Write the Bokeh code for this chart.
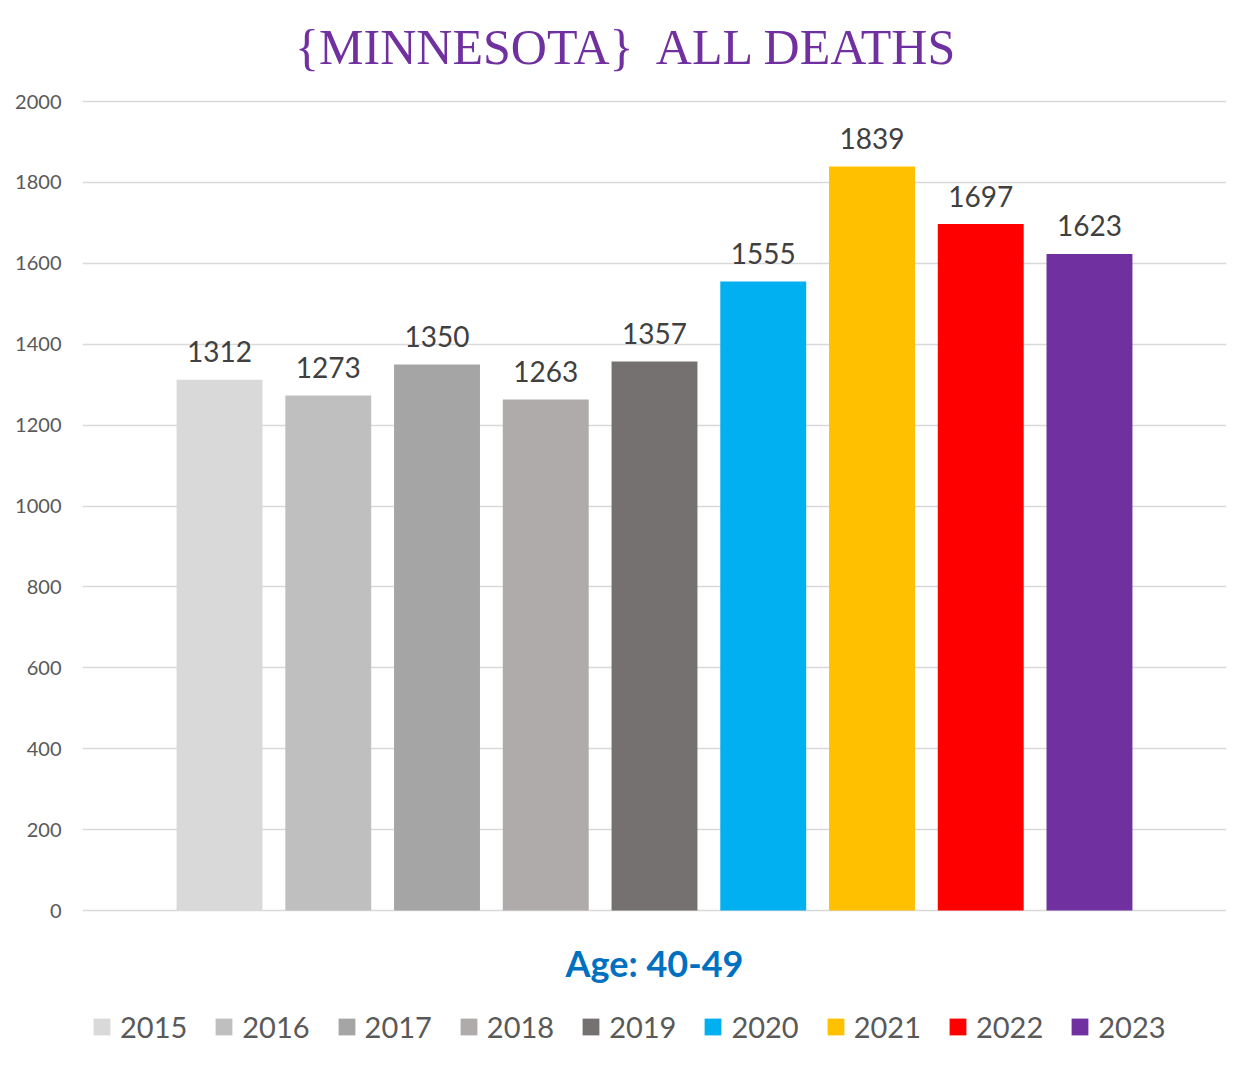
from bokeh.plotting import figure
from bokeh.models import (ColumnDataSource, Range1d, FixedTicker, Label, Legend,
                          LegendItem)
from bokeh.core.properties import value
from bokeh.embed import file_html
from bokeh.resources import INLINE

years = ["2015", "2016", "2017", "2018", "2019", "2020", "2021", "2022", "2023"]
deaths = [1312, 1273, 1350, 1263, 1357, 1555, 1839, 1697, 1623]
colors = ["#D9D9D9", "#BFBFBF", "#A5A5A5", "#AFABAB", "#767171",
          "#00B0F0", "#FFC000", "#FF0000", "#7030A0"]
y_ticks = list(range(0, 2001, 200))
title_text = "{MINNESOTA}\u00a0 ALL DEATHS"
axis_title = "Age: 40-49"

src = ColumnDataSource(dict(x=list(range(len(years))), y=deaths, year=years,
                            color=colors, label=[str(v) for v in deaths]))

W, H = 1234, 1052
LEFT, RIGHT = 82, 8
top_px, zero_px = 101, 910         # pixel rows of 2000 and 0
upp = 2000 / (zero_px - top_px)    # data units per pixel
y_lo = -(H - zero_px) * upp
y_hi = 2000 + top_px * upp

p = figure(width=W, height=H, output_backend="svg", toolbar_location=None,
           x_range=Range1d(-1.26, len(years) - 1 + 1.26), y_range=Range1d(y_lo, y_hi),
           min_border_left=LEFT, min_border_right=RIGHT, min_border_top=0,
           min_border_bottom=0)
p.outline_line_color = None
p.xaxis.visible = False
p.xgrid.visible = False
p.ygrid.grid_line_color = "#D9D9D9"
p.ygrid.grid_line_width = 1.5

p.yaxis.ticker = FixedTicker(ticks=y_ticks)
p.yaxis.axis_line_color = None
p.yaxis.major_tick_line_color = None
p.yaxis.minor_tick_line_color = None
p.yaxis.major_label_standoff = 15
p.yaxis.major_label_text_font = "Lato"
p.yaxis.major_label_text_font_size = "20px"
p.yaxis.major_label_text_color = "#595959"

bars = p.vbar(x="x", top="y", bottom=0, width=0.79, color="color", line_color=None,
              source=src)

p.text(x="x", y="y", text="label", source=src, text_align="center",
       text_baseline="alphabetic", y_offset=-28, text_font_size="28px",
       text_color="#404040", text_font=value("Lato"))

frame_w = W - LEFT - RIGHT
p.add_layout(Label(x=627 - LEFT, y=H - 46, x_units="screen", y_units="screen",
                   text=title_text, text_align="center", text_baseline="middle",
                   text_font="Liberation Serif", text_font_size="50px",
                   text_color="#7030A0"))
p.add_layout(Label(x=frame_w / 2, y=H - 962, x_units="screen", y_units="screen",
                   text=axis_title, text_align="center", text_baseline="middle",
                   text_font="Lato", text_font_style="bold", text_font_size="36px",
                   text_color="#0070C0"))

items = [LegendItem(label=yr, renderers=[bars], index=i) for i, yr in enumerate(years)]
legend = Legend(items=items, orientation="horizontal", location=(9, 8),
                glyph_width=21, glyph_height=21, label_standoff=8, spacing=26,
                padding=0, margin=0, border_line_color=None,
                background_fill_alpha=0, label_text_font="Lato",
                label_text_font_size="29px", label_text_color="#595959")
p.add_layout(legend, "center")

open("out.html", "w").write(file_html(p, INLINE))
